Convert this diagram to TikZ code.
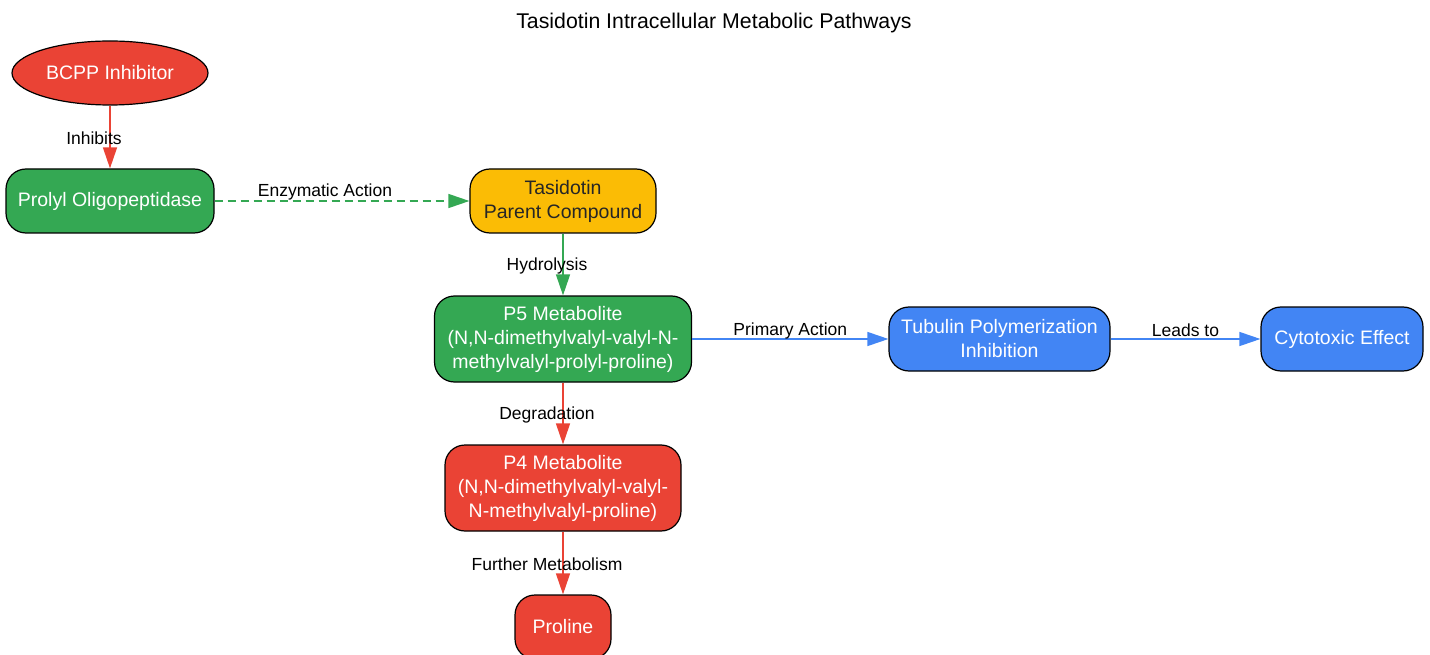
\documentclass[tikz,border=0pt]{standalone}
\usepackage{fontspec}
\setmainfont{Liberation Sans}
\usetikzlibrary{arrows.meta,shapes.geometric,positioning}

\definecolor{gred}{HTML}{EA4335}
\definecolor{ggreen}{HTML}{34A853}
\definecolor{gyellow}{HTML}{FBBC05}
\definecolor{gblue}{HTML}{4285F4}

\begin{document}
\begin{tikzpicture}[x=1pt,y=-1pt,
  >={Triangle[length=21pt,width=14pt]},
  stepbox/.style={draw=black,line width=1.2pt,rounded corners=20pt,align=center,text=white,
    font=\fontsize{19.5}{24}\selectfont,minimum height=64pt,inner sep=2pt},
  edgelabel/.style={font=\fontsize{17.5}{20}\selectfont,text=black},
  link/.style={->,line width=1.3pt}]

\useasboundingbox (0,0) rectangle (1430,655);

\node (title) at (714,23) [font=\fontsize{21.3}{24}\selectfont] {Tasidotin Intracellular Metabolic Pathways};

\node (bcpp) at (110,73) [ellipse,draw=black,line width=1.2pt,fill=gred,text=white,
  font=\fontsize{19.5}{24}\selectfont,minimum width=196pt,minimum height=64pt,inner sep=0pt] {BCPP Inhibitor};
\node (pop) at (110,201) [stepbox,fill=ggreen,minimum width=208pt] {Prolyl Oligopeptidase};
\node (tas) at (563,201) [stepbox,fill=gyellow,text=black!85,minimum width=186pt] {Tasidotin\\Parent Compound};
\node (p5) at (563,339) [stepbox,fill=ggreen,minimum width=257pt,minimum height=86pt] {P5 Metabolite\\(N,N-dimethylvalyl-valyl-N-\\methylvalyl-prolyl-proline)};
\node (tub) at (999.5,339) [stepbox,fill=gblue,minimum width=221pt] {Tubulin Polymerization\\Inhibition};
\node (cyto) at (1342,339) [stepbox,fill=gblue,minimum width=162pt] {Cytotoxic Effect};
\node (p4) at (563,488) [stepbox,fill=gred,minimum width=236pt,minimum height=86pt] {P4 Metabolite\\(N,N-dimethylvalyl-valyl-\\N-methylvalyl-proline)};
\node (pro) at (563,627) [stepbox,fill=gred,minimum width=96pt] {Proline};

\draw [link,gred] (bcpp) -- node [edgelabel,xshift=-16pt,yshift=-1.5pt] {Inhibits} (pop);
\draw [link,ggreen,dash pattern=on 8pt off 5pt] (pop) -- node [edgelabel,xshift=-17pt,yshift=9.5pt] {Enzymatic Action} (tas);
\draw [link,ggreen] (tas) -- node [edgelabel,xshift=-16pt,yshift=-1.5pt] {Hydrolysis} (p5);
\draw [link,gblue] (p5) -- node [edgelabel,yshift=8.5pt] {Primary Action} (tub);
\draw [link,gblue] (tub) -- node [edgelabel,yshift=8.5pt] {Leads to} (cyto);
\draw [link,gred] (p5) -- node [edgelabel,xshift=-16pt,yshift=-1.5pt] {Degradation} (p4);
\draw [link,gred] (p4) -- node [edgelabel,xshift=-16pt,yshift=-1.5pt] {Further Metabolism} (pro);

\end{tikzpicture}
\end{document}
